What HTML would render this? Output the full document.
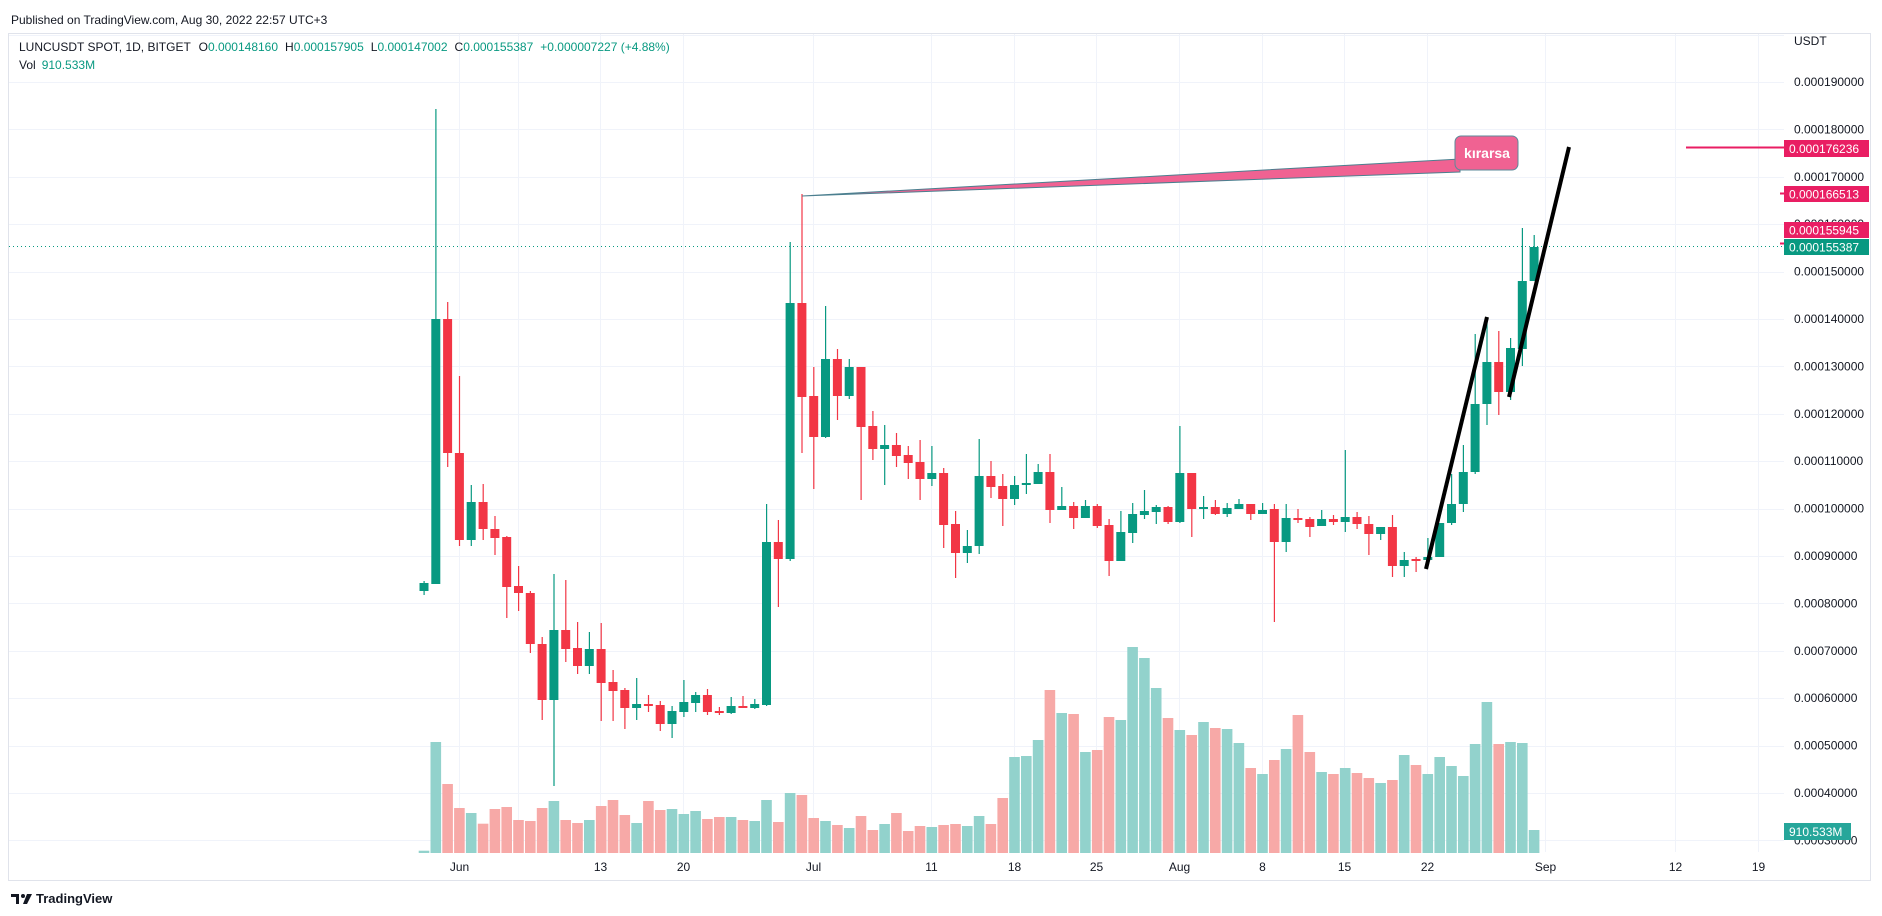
<!DOCTYPE html>
<html><head><meta charset="utf-8">
<style>
html,body{margin:0;padding:0;background:#fff;width:1882px;height:916px;overflow:hidden}
svg{display:block}
text{font-family:"Liberation Sans",sans-serif}
</style></head>
<body>
<svg id="s" width="1882" height="916" xmlns="http://www.w3.org/2000/svg">
<rect width="1882" height="916" fill="#fff"/>
<text x="11" y="24" font-size="12" fill="#131722">Published on TradingView.com, Aug 30, 2022 22:57 UTC+3</text>
<rect x="8.5" y="33.5" width="1862" height="847" fill="none" stroke="#e0e3eb"/>
<g id="grid" stroke="#f0f3fa" stroke-width="1"></g>
<g id="vol"></g>
<!-- current price dotted -->
<line x1="9" y1="246.5" x2="1784" y2="246.5" stroke="#089981" stroke-width="1" stroke-dasharray="1,3"/>
<g id="cdl"></g>
<!-- pink callout -->
<path d="M802,196 L1460,159 L1460,172 Z" fill="#f06292" stroke="#4b7f8f" stroke-width="1"/>
<rect x="1455" y="136" width="63" height="34" rx="6" fill="#f06292" stroke="#5b8a9a" stroke-width="1"/>
<text x="1487" y="158" font-size="14" fill="#fff" text-anchor="middle" font-weight="bold">kırarsa</text>
<!-- black lines -->
<line x1="1426" y1="569" x2="1487" y2="317" stroke="#000" stroke-width="4"/>
<line x1="1509" y1="397" x2="1569" y2="147" stroke="#000" stroke-width="4"/>
<!-- red horizontal -->
<line x1="1686" y1="147.5" x2="1784" y2="147.5" stroke="#e91e63" stroke-width="2"/>
<line x1="1780" y1="193.5" x2="1784" y2="193.5" stroke="#e91e63" stroke-width="2"/>
<line x1="1780" y1="243.5" x2="1784" y2="243.5" stroke="#e91e63" stroke-width="2"/>
<g id="axis" font-size="12" fill="#131722"></g>
<text x="1794" y="45" font-size="12" fill="#131722">USDT</text>
<rect x="1784" y="140" width="85" height="17" fill="#e91e63"/>
<text x="1789" y="153" font-size="12" fill="#fff">0.000176236</text>
<rect x="1784" y="186" width="85" height="16" fill="#e91e63"/>
<text x="1789" y="198.5" font-size="12" fill="#fff">0.000166513</text>
<rect x="1784" y="222" width="85" height="16" fill="#e91e63"/>
<text x="1789" y="234.5" font-size="12" fill="#fff">0.000155945</text>
<rect x="1784" y="239" width="85" height="16" fill="#089981"/>
<text x="1789" y="251.5" font-size="12" fill="#fff">0.000155387</text>
<rect x="1784" y="823" width="67" height="17" fill="#26a69a"/>
<text x="1789" y="836" font-size="12" fill="#fff">910.533M</text>
<g id="dates" font-size="12" fill="#131722" text-anchor="middle"></g>
<text x="19" y="51" font-size="12" fill="#131722">LUNCUSDT SPOT, 1D, BITGET<tspan dx="8">O</tspan><tspan fill="#089981">0.000148160</tspan><tspan dx="7">H</tspan><tspan fill="#089981">0.000157905</tspan><tspan dx="7">L</tspan><tspan fill="#089981">0.000147002</tspan><tspan dx="7">C</tspan><tspan fill="#089981">0.000155387</tspan><tspan dx="7" fill="#089981">+0.000007227 (+4.88%)</tspan></text>
<text x="19" y="69" font-size="12" fill="#131722">Vol<tspan dx="6" fill="#089981">910.533M</tspan></text>
<g transform="translate(11,892)">
<rect x="0" y="2" width="8" height="3" fill="#131722"/><rect x="5" y="2" width="3" height="10" fill="#131722"/>
<circle cx="12" cy="4" r="2" fill="#131722"/><path d="M16,2 L21,2 L16,12 L12,12 Z" fill="#131722"/>
</g>
<text x="36" y="903" font-size="13" fill="#131722" font-weight="bold">TradingView</text>
</svg>
<script>
var NS="http://www.w3.org/2000/svg";
function el(p,t,a,txt){var e=document.createElementNS(NS,t);for(var k in a)e.setAttribute(k,a[k]);if(txt!=null)e.textContent=txt;document.getElementById(p).appendChild(e);return e;}
// grid horizontals
for(var k=-1;k<=16;k++){var y=Math.round(82+k*47.4)+0.5;el('grid','line',{x1:9,y1:y,x2:1784,y2:y});}
var dates=[["Jun",-61],["13",-49],["20",-42],["Jul",-31],["11",-21],["18",-14],["25",-7],["Aug",0],["8",7],["15",14],["22",21],["Sep",31],["12",42],["19",49]];
dates.forEach(function(d){var x=Math.round(1179+d[1]*11.81)+0.5;el('grid','line',{x1:x,y1:34,x2:x,y2:852});el('dates','text',{x:x,y:871},d[0]);});
el('grid','line',{x1:Math.round(1179-56*11.81)+0.5,y1:34,x2:Math.round(1179-56*11.81)+0.5,y2:852});
for(var k=0;k<=16;k++){var p=190-k*10;var y=82+k*47.4+4;el('axis','text',{x:1794,y:y},"0.000"+p+"000");}
var C=[[583,591,581,595,'g'],[319,584,109,584,'g'],[319,453,302,467,'r'],[453,540,376,546,'r'],[502,540,485,546,'g'],[502,529,484,540,'r'],[529,538,516,555,'r'],[537,587,536,618,'r'],[586,593,566,611,'r'],[593,644,591,653,'r'],
[644,700,637,720,'r'],[630,700,574,786,'g'],[630,649,580,662,'r'],[648,666,622,674,'r'],[649,666,632,674,'g'],[649,683,623,721,'r'],[682,691,670,721,'r'],[690,708,688,729,'r'],[704,708,678,720,'g'],[704,706,695,712,'r'],
[705,724,701,731,'r'],[711,724,706,738,'g'],[702,712,680,717,'g'],[695,703,692,712,'g'],[695,712,689,715,'r'],[711,713,707,715,'r'],[706,713,697,714,'g'],[706,708,696,708,'r'],[704,708,699,709,'g'],[542,705,504,706,'g'],
[542,559,520,607,'r'],[303,559,242,561,'g'],[303,397,194,453,'r'],[396,437,367,489,'r'],[359,437,306,438,'g'],[359,396,349,420,'r'],[367,396,359,399,'g'],[367,427,367,500,'r'],[426,449,411,460,'r'],[445,449,425,485,'g'],
[445,456,433,467,'r'],[455,463,446,479,'r'],[462,479,440,500,'r'],[473,479,446,486,'g'],[473,525,468,548,'r'],[524,553,511,578,'r'],[546,553,530,563,'g'],[476,546,439,554,'g'],[476,487,461,498,'r'],[486,499,474,526,'r'],
[485,499,476,505,'g'],[483,485,454,494,'g'],[472,484,464,484,'g'],[472,510,454,523,'r'],[506,510,487,510,'g'],[506,518,502,529,'r'],[506,518,500,518,'g'],[506,526,504,528,'r'],[525,561,519,576,'r'],[532,561,511,561,'g'],
[514,533,503,543,'g'],[511,515,490,519,'g'],[507,512,505,524,'g'],[507,522,506,524,'r'],[473,522,426,523,'g'],[473,509,473,537,'r'],[507,509,496,519,'g'],[507,514,500,515,'r'],[508,514,503,517,'g'],[504,509,499,509,'g'],
[504,514,504,520,'r'],[510,514,503,514,'g'],[509,542,504,622,'r'],[518,542,504,552,'g'],[518,520,509,523,'r'],[519,527,517,537,'r'],[519,526,510,526,'g'],[519,522,515,525,'r'],[517,522,450,532,'g'],[517,524,512,529,'r'],
[524,534,516,555,'r'],[527,534,527,540,'g'],[527,566,515,577,'r'],[560,566,552,577,'g'],[559,561,557,572,'r'],[557,560,538,560,'g'],[523,557,523,557,'g'],[504,523,474,525,'g'],[472,504,445,512,'g'],[404,472,334,474,'g'],
[362,404,317,425,'g'],[362,392,331,415,'r'],[348,392,338,400,'g'],[281,349,228,366,'g'],[247,281,235,281,'g']];
var V1=[[632,'g'],[306,'g'],[432,'r'],[504,'r'],[519,'g'],[551,'r'],[507,'r'],[501,'r'],[540,'r'],[543,'r'],[504,'r'],[483,'g'],[540,'r'],[549,'r'],[540,'g'],[498,'r'],[480,'r'],[525,'r'],[549,'g'],[483,'r'],[510,'r'],[507,'g'],[522,'g'],[513,'g'],[537,'r'],[531,'r'],[531,'g'],[540,'r'],[543,'g'],[480,'g'],[546,'r'],[459,'g'],[465,'r'],[534,'r'],[543,'g'],[555,'r'],[564,'g'],[528,'r'],[570,'r'],[552,'g'],[519,'r'],[573,'r'],[558,'r'],[561,'g'],[555,'r'],[552,'r'],[558,'g'],[528,'g']];
var V2=[[552,'r'],[474,'r'],[351,'g'],[348,'g'],[300,'g'],[150,'r'],[219,'g'],[222,'r'],[336,'g'],[330,'r'],[231,'r'],[240,'g'],[21,'g'],[54,'g'],[144,'g'],[234,'r'],[270,'g'],[285,'r'],[246,'g'],[264,'r'],[267,'g'],[309,'g'],[384,'r'],[402,'g'],[360,'r'],[327,'g'],[225,'r'],[336,'r'],[396,'g'],[402,'r'],[384,'g'],[399,'r'],[414,'r'],[429,'g'],[420,'r'],[345,'g'],[375,'r'],[402,'g'],[351,'g'],[378,'g'],[408,'g'],[312,'g'],[186,'g'],[312,'r'],[306,'g'],[309,'g'],[570,'g']];
var V=V1.concat(V2);
function X(i){return 424+i*11.81;}
V.forEach(function(v,i){var y=640+v[0]/3;el('vol','rect',{x:(X(i)-5.3).toFixed(1),y:y.toFixed(1),width:10.6,height:(853-y).toFixed(1),fill:v[1]=='g'?'#92d2cc':'#f7a9a7'});});
C.forEach(function(c,i){var x=X(i),col=c[4]=='g'?'#089981':'#f23645';
el('cdl','rect',{x:(x-0.5).toFixed(1),y:c[2],width:1.2,height:Math.max(1,c[3]-c[2]),fill:col});
el('cdl','rect',{x:(x-4.5).toFixed(1),y:c[0],width:9,height:Math.max(2,c[1]-c[0]),fill:col});});
</script>
</body></html>
